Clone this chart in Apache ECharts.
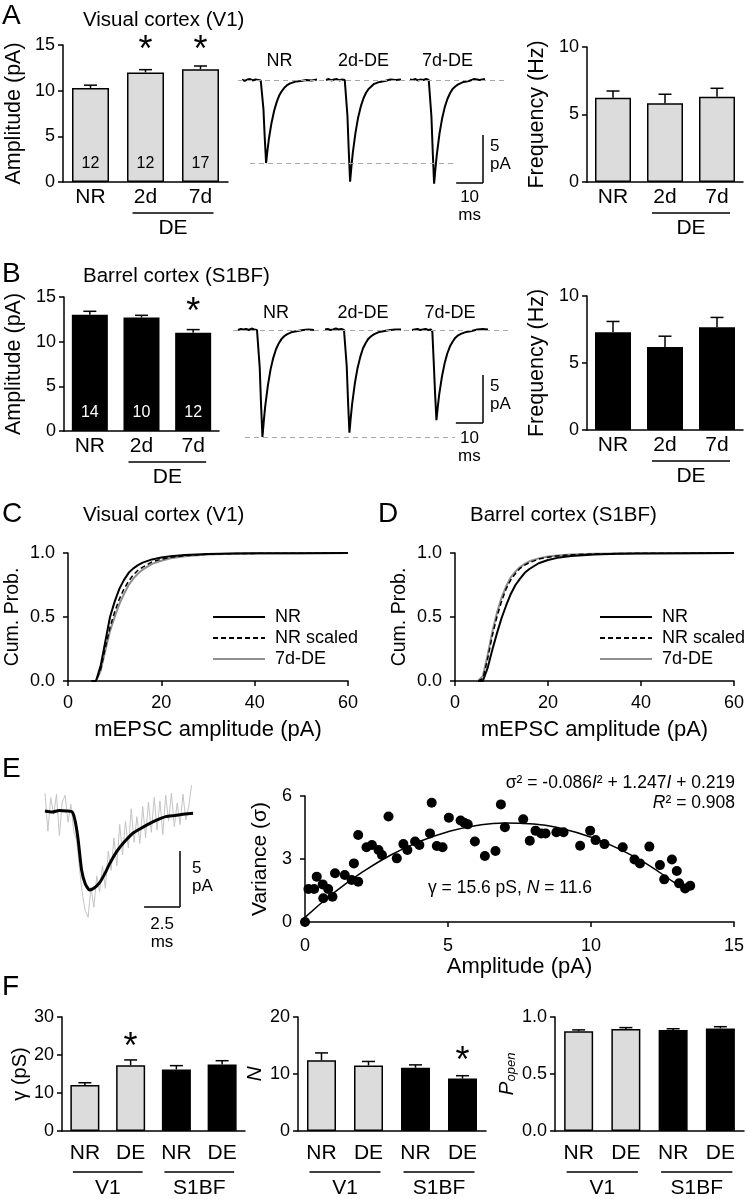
<!DOCTYPE html>
<html><head><meta charset="utf-8">
<script src="https://cdn.jsdelivr.net/npm/echarts@6/dist/echarts.min.js"></script>
<style>html,body{margin:0;padding:0;background:#fff}#c{width:747px;height:1199px}</style>
</head><body><div id="c"></div>
<script>
const FONT = '"Liberation Sans", Arial, Helvetica, sans-serif';
const NARROW = '"Liberation Sans Narrow", "Arial Narrow", "Liberation Sans", Arial, sans-serif';

// ---------- Panel A / B bar data ----------
const groupCats = ['NR', '2d', '7d'];
const ampV1 = [10.3, 12.0, 12.35];
const ampV1Err = [0.3, 0.3, 0.35];
const ampV1N = [12, 12, 17];
const ampV1Sig = [false, true, true];
const freqV1 = [6.24, 5.83, 6.32];
const freqV1Err = [0.5, 0.67, 0.62];
const ampS1 = [13.0, 12.7, 11.0];
const ampS1Err = [0.4, 0.25, 0.35];
const ampS1N = [14, 10, 12];
const ampS1Sig = [false, false, true];
const freqS1 = [7.3, 6.2, 7.66];
const freqS1Err = [0.8, 0.8, 0.74];

// ---------- averaged mEPSC traces (ms, pA) ----------
const traceLabels = ['NR', '2d-DE', '7d-DE'];
const traceT = [0,1,2,3,4,5,6,7,7.5,8,8.5,9,9.5,10,11,12,13,14,15,16,17,18,20,22,24,26,28];
const traceV1NR = [0.05,-0.1,0.05,0.1,-0.05,0.05,0,-0.05,-0.17,-3.0,-6.05,-8.65,-7.35,-6.2,-4.5,-3.2,-2.25,-1.55,-1.1,-0.75,-0.5,-0.35,-0.17,-0.1,0,-0.05,0.05];
const traceV12d = [0,0.1,-0.05,0.05,0.1,-0.05,0.05,0,-0.2,-3.7,-7.4,-10.6,-9.0,-7.6,-5.5,-3.9,-2.75,-1.9,-1.3,-0.9,-0.65,-0.4,-0.2,-0.1,0.05,0,0.05];
const traceV17d = [0.05,0,0.1,-0.05,0.05,0,0.1,0,-0.2,-3.8,-7.55,-10.8,-9.2,-7.8,-5.6,-4.0,-2.8,-1.95,-1.35,-0.9,-0.65,-0.45,-0.2,-0.1,0.1,0,0.1];
const traceS1NR = [0,0.1,0.05,0.1,0,0.15,0.05,0,-0.2,-3.9,-7.8,-11.15,-9.5,-8.0,-5.8,-4.1,-2.9,-2.0,-1.4,-0.95,-0.65,-0.45,-0.2,-0.1,0,0.05,0];
const traceS12d = [0.05,0.1,0,0.05,0.15,0.05,0.1,0,-0.2,-3.75,-7.5,-10.7,-9.1,-7.7,-5.55,-3.95,-2.8,-1.9,-1.35,-0.9,-0.65,-0.45,-0.2,-0.1,0,0.05,0.05];
const traceS17d = [0,0.05,0.1,0,0.05,0.1,0,0.05,-0.2,-3.3,-6.6,-9.4,-8.0,-6.75,-4.9,-3.5,-2.45,-1.7,-1.2,-0.8,-0.55,-0.4,-0.2,-0.1,0.05,0.1,0.05];

// ---------- cumulative distributions ----------
const cdfX = [5,6,7,8,9,10,11,12,13,14,15,16,18,20,22,25,30,35,40,50,60];
const cdfC_NR = [0,0,0.12,0.31,0.5,0.62,0.72,0.79,0.845,0.88,0.905,0.925,0.95,0.965,0.975,0.985,0.992,0.996,0.998,0.999,1];
const cdfC_scaled = [0,0,0.09,0.26,0.42,0.54,0.64,0.72,0.78,0.83,0.865,0.89,0.93,0.952,0.966,0.979,0.99,0.995,0.997,0.999,1];
const cdfC_DE = [0,0,0.08,0.24,0.39,0.5,0.6,0.68,0.75,0.8,0.84,0.87,0.915,0.94,0.958,0.975,0.988,0.994,0.997,0.999,1];
const cdfD_NR = [0,0,0.1,0.24,0.37,0.49,0.59,0.68,0.75,0.8,0.845,0.875,0.92,0.945,0.962,0.977,0.989,0.994,0.997,0.999,1];
const cdfD_scaled = [0,0.02,0.17,0.35,0.5,0.62,0.72,0.79,0.84,0.88,0.905,0.925,0.952,0.967,0.977,0.986,0.993,0.996,0.998,0.999,1];
const cdfD_DE = [0,0.04,0.2,0.38,0.53,0.65,0.74,0.81,0.855,0.89,0.915,0.935,0.958,0.972,0.98,0.988,0.994,0.997,0.998,0.999,1];
const cdfNames = ['NR', 'NR scaled', '7d-DE'];

// ---------- panel E ----------
const eT = [0,0.5,1.0,1.5,1.9,2.1,2.3,2.55,2.8,3.1,3.4,3.8,4.2,4.5,5.0,5.5,6.1,6.6,7.3,7.8,8.4,9.0,9.6,10.3];
const eMean = [0,-0.1,0.05,0,-0.1,-0.9,-2.5,-5.3,-6.5,-7.05,-6.9,-6.4,-5.5,-4.7,-3.6,-2.8,-2.0,-1.6,-1.1,-0.8,-0.5,-0.4,-0.3,-0.2];
const eNoisyT = [0,0.2,0.4,0.6,0.8,1.0,1.2,1.4,1.6,1.8,2.0,2.2,2.4,2.6,2.8,3.0,3.2,3.4,3.6,3.8,4.0,4.2,4.4,4.6,4.8,5.0,5.2,5.4,5.6,5.8,6.0,6.2,6.4,6.6,6.8,7.0,7.2,7.4,7.6,7.8,8.0,8.2,8.4,8.6,8.8,9.0,9.2,9.4,9.6,9.8,10.0,10.2];
const eNoisy = [1.6,-1.8,1.2,-0.3,1.5,-2.2,0.8,1.4,-1.0,0.6,-1.8,-2.6,-5.1,-7.4,-8.9,-9.5,-6.8,-8.6,-5.8,-7.2,-4.9,-6.9,-3.6,-5.3,-2.4,-4.9,-1.2,-3.9,-0.9,-3.3,0.2,-2.8,-0.5,-2.9,0.4,-2.4,0.8,-1.9,1.2,-1.7,0.9,-2.1,1.4,-0.9,1.6,-1.4,0.7,-1.2,1.5,-0.8,0.4,2.3];
const eAmp = [0,0.12,0.32,0.41,0.62,0.81,0.64,0.96,1.05,1.39,1.63,1.86,1.71,1.86,2.15,2.34,2.57,2.69,2.92,3.21,3.44,3.58,3.85,4.0,4.37,4.43,4.61,4.81,5.03,5.44,5.57,5.69,5.94,6.29,6.66,6.85,6.99,7.63,7.86,8.06,8.26,8.41,8.79,9.04,9.62,9.97,10.16,10.47,11.11,11.52,11.71,12.04,12.41,12.56,12.83,13.0,13.08,13.29,13.47];
const eVar = [0,1.57,1.57,2.16,1.79,1.57,1.13,1.2,2.32,2.24,2.0,1.92,2.79,4.14,3.56,3.67,3.43,3.19,5.02,3.03,3.71,3.43,3.83,3.67,4.22,5.68,3.62,3.56,4.97,4.83,4.73,4.65,3.83,3.14,3.38,5.6,4.51,4.89,3.87,4.35,4.22,4.22,4.27,4.27,3.63,4.35,3.9,3.71,3.56,2.98,2.79,3.59,2.71,2.03,2.98,2.43,1.84,1.6,1.73];
const fitAmp = [0,1,2,3,4,5,6,7,8,9,10,11,12,13,13.35];
const fitVar = [0.22,1.38,2.37,3.19,3.83,4.30,4.60,4.72,4.67,4.44,4.04,3.47,2.72,1.80,1.54];

// ---------- panel F ----------
const fCats = ['NR', 'DE', 'NR', 'DE'];
const fGroups = ['V1', 'S1BF'];
const fGamma = [12.1, 17.3, 16.2, 17.5];
const fGammaErr = [0.6, 1.4, 1.0, 1.0];
const fGammaSig = [false, true, false, false];
const fN = [12.4, 11.5, 11.1, 9.2];
const fNErr = [1.3, 0.7, 0.5, 0.5];
const fNSig = [false, false, false, true];
const fP = [0.875, 0.895, 0.885, 0.9];
const fPErr = [0.012, 0.012, 0.012, 0.015];

// ================= build =================
const BLACK = '#000', GRAYFILL = '#dcdcdc', DASH = '#a8a8a8', CDFGRAY = '#8f8f8f';
const TICK_FS = 18, CAT_FS = 21, NAME_FS = 21.5;
const grids = [], xAxes = [], yAxes = [], series = [];
function addGrid(g) { grids.push(Object.assign({ containLabel: false }, g)); return grids.length - 1; }
function catX(gi, cats, o) {
  o = o || {};
  xAxes.push({ type: 'category', gridIndex: gi, data: cats, boundaryGap: true,
    axisLine: { show: true, onZero: false, lineStyle: { color: BLACK, width: 1.5 } },
    axisTick: { show: false },
    axisLabel: { color: BLACK, fontSize: o.fs || CAT_FS, fontFamily: o.ff || FONT, margin: o.margin || 5 } });
}
function valAxis(gi, min, max, interval, o) {
  o = o || {};
  const ax = { type: 'value', gridIndex: gi, min, max, interval,
    axisLine: { show: true, onZero: false, lineStyle: { color: BLACK, width: 1.5 } },
    axisTick: { show: true, inside: false, length: 5, lineStyle: { color: BLACK, width: 1.5 } },
    splitLine: { show: false },
    axisLabel: { color: BLACK, fontSize: o.fs || TICK_FS, fontFamily: o.ff || FONT, margin: o.margin || 8 },
    name: o.name || '', nameLocation: 'middle', nameGap: o.gap || 30,
    nameTextStyle: Object.assign({ color: BLACK, fontSize: NAME_FS, fontFamily: o.ff || FONT }, o.nts || {}) };
  if (o.fmt) ax.axisLabel.formatter = o.fmt;
  if (o.rot !== undefined) ax.nameRotate = o.rot;
  return ax;
}
function errRender(params, api) {
  const x = api.value(0), y = api.value(1), e = api.value(2);
  const p0 = api.coord([x, y]), p1 = api.coord([x, y + e]);
  const hw = 6.5;
  const st = { stroke: BLACK, lineWidth: 1.5 };
  return { type: 'group', children: [
    { type: 'line', shape: { x1: p0[0], y1: p0[1], x2: p1[0], y2: p1[1] }, style: st },
    { type: 'line', shape: { x1: p1[0] - hw, y1: p1[1], x2: p1[0] + hw, y2: p1[1] }, style: st } ] };
}
function bars(gi, values, errs, fillFn, bw, counts, countColor) {
  series.push({ type: 'bar', xAxisIndex: gi, yAxisIndex: gi, barWidth: bw, z: 2,
    data: values.map((v, i) => ({ value: v,
      itemStyle: { color: fillFn(i), borderColor: BLACK, borderWidth: 1.5 },
      label: counts ? { show: true, position: 'insideBottom', distance: 10, formatter: String(counts[i]),
        color: countColor, fontSize: 16, fontFamily: FONT } : { show: false } })) });
  series.push({ type: 'custom', xAxisIndex: gi, yAxisIndex: gi, renderItem: errRender, z: 3,
    encode: { x: 0, y: 1 }, data: values.map((v, i) => [i, v, errs[i]]) });
}
function barChart(g, cats, min, max, interval, name, gap, values, errs, fillFn, bw, counts, countColor, o) {
  o = o || {};
  const gi = addGrid(g);
  catX(gi, cats, { fs: o.cfs, ff: o.ff, margin: o.cmargin });
  yAxes.push(valAxis(gi, min, max, interval, { name, gap, rot: 90, fmt: o.fmt, ff: o.ff, fs: o.tfs, nts: o.nts, margin: o.tmargin }));
  bars(gi, values, errs, fillFn, bw, counts, countColor);
  return gi;
}
const YMIN = -12, YMAX = 1;
function traceGrid(left, top, width, height, vals) {
  const gi = addGrid({ left, top, width, height });
  xAxes.push({ type: 'value', gridIndex: gi, min: 0, max: 28, show: false });
  yAxes.push({ type: 'value', gridIndex: gi, min: YMIN, max: YMAX, show: false });
  series.push({ type: 'line', xAxisIndex: gi, yAxisIndex: gi, symbol: 'none', silent: true, z: 4,
    data: traceT.map((t, i) => [t, vals[i]]), lineStyle: { color: BLACK, width: 2 } });
  return gi;
}
function dashGrid(left, top, width, height, yVal) {
  const gi = addGrid({ left, top, width, height });
  xAxes.push({ type: 'value', gridIndex: gi, min: 0, max: 1, show: false });
  yAxes.push({ type: 'value', gridIndex: gi, min: YMIN, max: YMAX, show: false });
  series.push({ type: 'line', xAxisIndex: gi, yAxisIndex: gi, symbol: 'none', data: [], z: 1,
    markLine: { symbol: 'none', silent: true, label: { show: false }, animation: false,
      lineStyle: { color: DASH, type: [5, 4], width: 1 }, data: [{ yAxis: yVal }] } });
  return gi;
}

const v1Fill = () => GRAYFILL, s1Fill = () => BLACK;

// --- Panel A ---
const gAamp = barChart({ left: 63, top: 45, width: 165, height: 137 }, groupCats, 0, 15, 5, 'Amplitude (pA)', 38,
  ampV1, ampV1Err, v1Fill, 37, ampV1N, BLACK);
const gAfreq = barChart({ left: 587, top: 47, width: 156, height: 135 }, groupCats, 0, 10, 5, 'Frequency (Hz)', 39,
  freqV1, freqV1Err, v1Fill, 36);
const TR_H = (YMAX - YMIN) * 9.6;
const aBase = 80, bBase = 330;
dashGrid(238, aBase - 9.6, 270, TR_H, 0);
dashGrid(250, aBase - 9.6, 207, TR_H, Math.min(...traceV1NR));
const gAtr = [traceGrid(242, aBase - 9.6, 75, TR_H, traceV1NR),
              traceGrid(326, aBase - 9.6, 75, TR_H, traceV12d),
              traceGrid(410, aBase - 9.6, 75, TR_H, traceV17d)];
// --- Panel B ---
const gBamp = barChart({ left: 64, top: 297, width: 155, height: 134 }, groupCats, 0, 15, 5, 'Amplitude (pA)', 39,
  ampS1, ampS1Err, s1Fill, 36, ampS1N, '#fff');
const gBfreq = barChart({ left: 587, top: 296, width: 156, height: 134 }, groupCats, 0, 10, 5, 'Frequency (Hz)', 39,
  freqS1, freqS1Err, s1Fill, 36);
dashGrid(233, bBase - 9.6, 277, TR_H, 0);
dashGrid(245, bBase - 9.6, 210, TR_H, Math.min(...traceS1NR));
const gBtr = [traceGrid(238, bBase - 9.6, 76, TR_H, traceS1NR),
              traceGrid(325, bBase - 9.6, 76, TR_H, traceS12d),
              traceGrid(412, bBase - 9.6, 76, TR_H, traceS17d)];

// --- Panels C / D ---
function cdfPanel(left, nr, sc, de) {
  const gi = addGrid({ left, top: 553, width: 280, height: 128 });
  xAxes.push(valAxis(gi, 0, 60, 20, { name: 'mEPSC amplitude (pA)', gap: 38, margin: 13, nts: { fontSize: 22 } }));
  yAxes.push(valAxis(gi, 0, 1, 0.5, { name: 'Cum. Prob.', gap: 45, rot: 90, margin: 13, fmt: v => v.toFixed(1), nts: { fontSize: 19.5 } }));
  const mk = (name, arr, ls) => series.push({ type: 'line', name, xAxisIndex: gi, yAxisIndex: gi,
    symbol: 'none', showSymbol: false,
    data: cdfX.map((x, i) => [x, arr[i]]), lineStyle: ls, itemStyle: { color: ls.color } });
  mk(cdfNames[2], de, { color: CDFGRAY, width: 2 });
  mk(cdfNames[1], sc, { color: BLACK, width: 1.5, type: [5, 3] });
  mk(cdfNames[0], nr, { color: BLACK, width: 2 });
  return gi;
}
const gC = cdfPanel(68, cdfC_NR, cdfC_scaled, cdfC_DE);
const gD = cdfPanel(455, cdfD_NR, cdfD_scaled, cdfD_DE);

// --- Panel E ---
const gEtr = addGrid({ left: 45, top: 777.4, width: 148, height: 145.6 });
xAxes.push({ type: 'value', gridIndex: gEtr, min: 0, max: 10.3, show: false });
yAxes.push({ type: 'value', gridIndex: gEtr, min: -10, max: 3, show: false });
series.push({ type: 'line', xAxisIndex: gEtr, yAxisIndex: gEtr, symbol: 'none', silent: true,
  data: eNoisyT.map((t, i) => [t, eNoisy[i]]), lineStyle: { color: '#c4c4c4', width: 1 } });
series.push({ type: 'line', xAxisIndex: gEtr, yAxisIndex: gEtr, symbol: 'none', silent: true, smooth: 0.2,
  data: eT.map((t, i) => [t, eMean[i]]), lineStyle: { color: BLACK, width: 3 } });

const gEsc = addGrid({ left: 305, top: 796, width: 430, height: 126 });
xAxes.push(valAxis(gEsc, 0, 15, 5, { name: 'Amplitude (pA)', gap: 34, margin: 15, nts: { fontSize: 22 } }));
yAxes.push(valAxis(gEsc, 0, 6, 3, { name: 'Variance (σ)', gap: 31, rot: 90, margin: 13, nts: { fontSize: 21 } }));
series.push({ type: 'line', xAxisIndex: gEsc, yAxisIndex: gEsc, symbol: 'none', smooth: true, silent: true,
  data: fitAmp.map((x, i) => [x, fitVar[i]]), lineStyle: { color: BLACK, width: 1.5 } });
series.push({ type: 'scatter', xAxisIndex: gEsc, yAxisIndex: gEsc, symbolSize: 10, itemStyle: { color: BLACK, opacity: 1 },
  data: eAmp.map((x, i) => [x, eVar[i]]) });

// --- Panel F ---
const fFill = i => (i < 2 ? GRAYFILL : BLACK);
const fo = { ff: NARROW, cfs: 21, tfs: 18, cmargin: 12 };
const gF1 = barChart({ left: 62, top: 1017, width: 183, height: 114 }, fCats, 0, 30, 10, 'γ (pS)', 29,
  fGamma, fGammaErr, fFill, 29, null, null, Object.assign({}, fo, { nts: { fontSize: 20 } }));
const gF2 = barChart({ left: 298, top: 1017, width: 188, height: 114 }, fCats, 0, 20, 10, 'N', 14,
  fN, fNErr, fFill, 29, null, null, Object.assign({}, fo, { nts: { fontStyle: 'italic', fontSize: 21 } }));
const gF3 = barChart({ left: 555, top: 1017, width: 189, height: 114 }, fCats, 0, 1, 0.5, '{p|P}{s|open}', 13,
  fP, fPErr, fFill, 29, null, null, Object.assign({}, fo, { fmt: v => v.toFixed(1),
    nts: { rich: { p: { fontStyle: 'italic', fontSize: 21, fontFamily: FONT }, s: { fontStyle: 'italic', fontSize: 13, fontFamily: FONT, padding: [8, 0, 0, 0] } } } }));

const legendBase = { orient: 'vertical', itemWidth: 52, itemHeight: 12, itemGap: 3, selectedMode: false, data: cdfNames,
  itemStyle: { opacity: 0, borderWidth: 0 },
  textStyle: { fontSize: 18, color: BLACK, fontFamily: FONT, padding: [0, 0, 0, 5] } };

const chart = echarts.init(document.getElementById('c'), null, { renderer: 'canvas', width: 747, height: 1199 });
chart.setOption({ animation: false, backgroundColor: '#fff', textStyle: { fontFamily: FONT },
  grid: grids, xAxis: xAxes, yAxis: yAxes, series,
  legend: [Object.assign({ left: 207, top: 603 }, legendBase), Object.assign({ left: 594, top: 603 }, legendBase)] });

// ---------- annotations placed through the axes ----------
const G = [];
const px = (gi, v) => chart.convertToPixel({ xAxisIndex: gi }, v);
const py = (gi, v) => chart.convertToPixel({ yAxisIndex: gi }, v);
function txt(x, y, text, o) {
  o = o || {};
  G.push({ type: 'text', x, y, silent: true, style: Object.assign({ text, fill: BLACK,
    fontSize: o.fs || 17, fontFamily: o.ff || FONT, fontStyle: o.style || 'normal',
    textAlign: o.align || 'left', align: o.align || 'left', textVerticalAlign: 'middle', verticalAlign: 'middle' }, o.extra || {}) });
}
function line(x1, y1, x2, y2, w) {
  G.push({ type: 'line', silent: true, shape: { x1, y1, x2, y2 }, style: { stroke: BLACK, lineWidth: w || 1.5 } });
}
// panel letters and titles
const LET = 28, TIT = 20.5;
txt(2, 16, 'A', { fs: LET }); txt(83, 20, 'Visual cortex (V1)', { fs: TIT });
txt(2, 274, 'B', { fs: LET }); txt(83, 276, 'Barrel cortex (S1BF)', { fs: TIT });
txt(2, 514, 'C', { fs: LET }); txt(83, 515, 'Visual cortex (V1)', { fs: TIT });
txt(378, 514, 'D', { fs: LET }); txt(470, 515, 'Barrel cortex (S1BF)', { fs: TIT });
txt(2, 769, 'E', { fs: LET });
txt(2, 987, 'F', { fs: LET });

// group underline + label
function group(gi, i0, i1, label, dLine, dText, ext, o) {
  const y0 = py(gi, 0);
  const xa = px(gi, i0) - ext, xb = px(gi, i1) + ext;
  line(xa, y0 + dLine, xb, y0 + dLine, 1.5);
  txt((xa + xb) / 2, y0 + dText, label, Object.assign({ align: 'center', fs: CAT_FS }, o || {}));
}
[gAamp, gAfreq, gBamp, gBfreq].forEach(gi => group(gi, 1, 2, 'DE', 31, 46, 13));
[gF1, gF2, gF3].forEach(gi => {
  group(gi, 0, 1, fGroups[0], 41, 57, 12, { ff: NARROW });
  group(gi, 2, 3, fGroups[1], 41, 57, 12, { ff: NARROW });
});
// significance stars
function stars(gi, sig, yc) { sig.forEach((s, i) => { if (s) txt(px(gi, i), yc, '*', { align: 'center', fs: 36 }); }); }
stars(gAamp, ampV1Sig, 51); stars(gBamp, ampS1Sig, 313);
stars(gF1, fGammaSig, 1048); stars(gF2, fNSig, 1062);

// trace labels
gAtr.forEach((gi, i) => txt((px(gi, 0) + px(gi, 28)) / 2, 61, traceLabels[i], { align: 'center', fs: 18 }));
gBtr.forEach((gi, i) => txt((px(gi, 0) + px(gi, 28)) / 2, 313, traceLabels[i], { align: 'center', fs: 18 }));

// scale bars (lengths from the trace axes)
function scaleBar(gi, cx, cy, ms, pA, msLabel, o) {
  const h = Math.abs(py(gi, 0) - py(gi, pA));
  const w = Math.abs(px(gi, ms) - px(gi, 0));
  line(cx, cy - h, cx, cy, 1.5);
  line(cx - w, cy, cx, cy, 1.5);
  txt(cx + o.dx, cy - h + o.d5, String(pA), { fs: 17 });
  txt(cx + o.dx, cy - h + o.d5 + 18, 'pA', { fs: 17 });
  txt(cx - w / 2, cy + o.d10, msLabel, { fs: 17, align: 'center' });
  txt(cx - w / 2, cy + o.d10 + 18, 'ms', { fs: 17, align: 'center' });
}
scaleBar(gAtr[2], 483, 183, 10, 5, '10', { dx: 7, d5: 11, d10: 14 });
scaleBar(gBtr[2], 483, 423, 10, 5, '10', { dx: 7, d5: 11, d10: 15 });
scaleBar(gEtr, 180, 907, 2.5, 5, '2.5', { dx: 12, d5: 17, d10: 17 });

// panel E equations
const richN = { fontSize: 17.5, fontFamily: FONT, color: BLACK, fill: BLACK };
const richI = { fontSize: 17.5, fontFamily: FONT, fontStyle: 'italic', color: BLACK, fill: BLACK };
G.push({ type: 'text', x: 735, y: 783, silent: true, style: { text: '{n|σ² = -0.086}{i|I}{n|² + 1.247}{i|I}{n| + 0.219}',
  textAlign: 'right', align: 'right', textVerticalAlign: 'middle', verticalAlign: 'middle', rich: { n: richN, i: richI } } });
G.push({ type: 'text', x: 735, y: 803, silent: true, style: { text: '{i|R}{n|² = 0.908}',
  textAlign: 'right', align: 'right', textVerticalAlign: 'middle', verticalAlign: 'middle', rich: { n: richN, i: richI } } });
G.push({ type: 'text', x: 428, y: 888, silent: true, style: { text: '{n|γ = 15.6 pS, }{i|N}{n| = 11.6}',
  textAlign: 'left', align: 'left', textVerticalAlign: 'middle', verticalAlign: 'middle', rich: { n: richN, i: richI } } });

chart.setOption({ graphic: { elements: G } });
</script></body></html>
